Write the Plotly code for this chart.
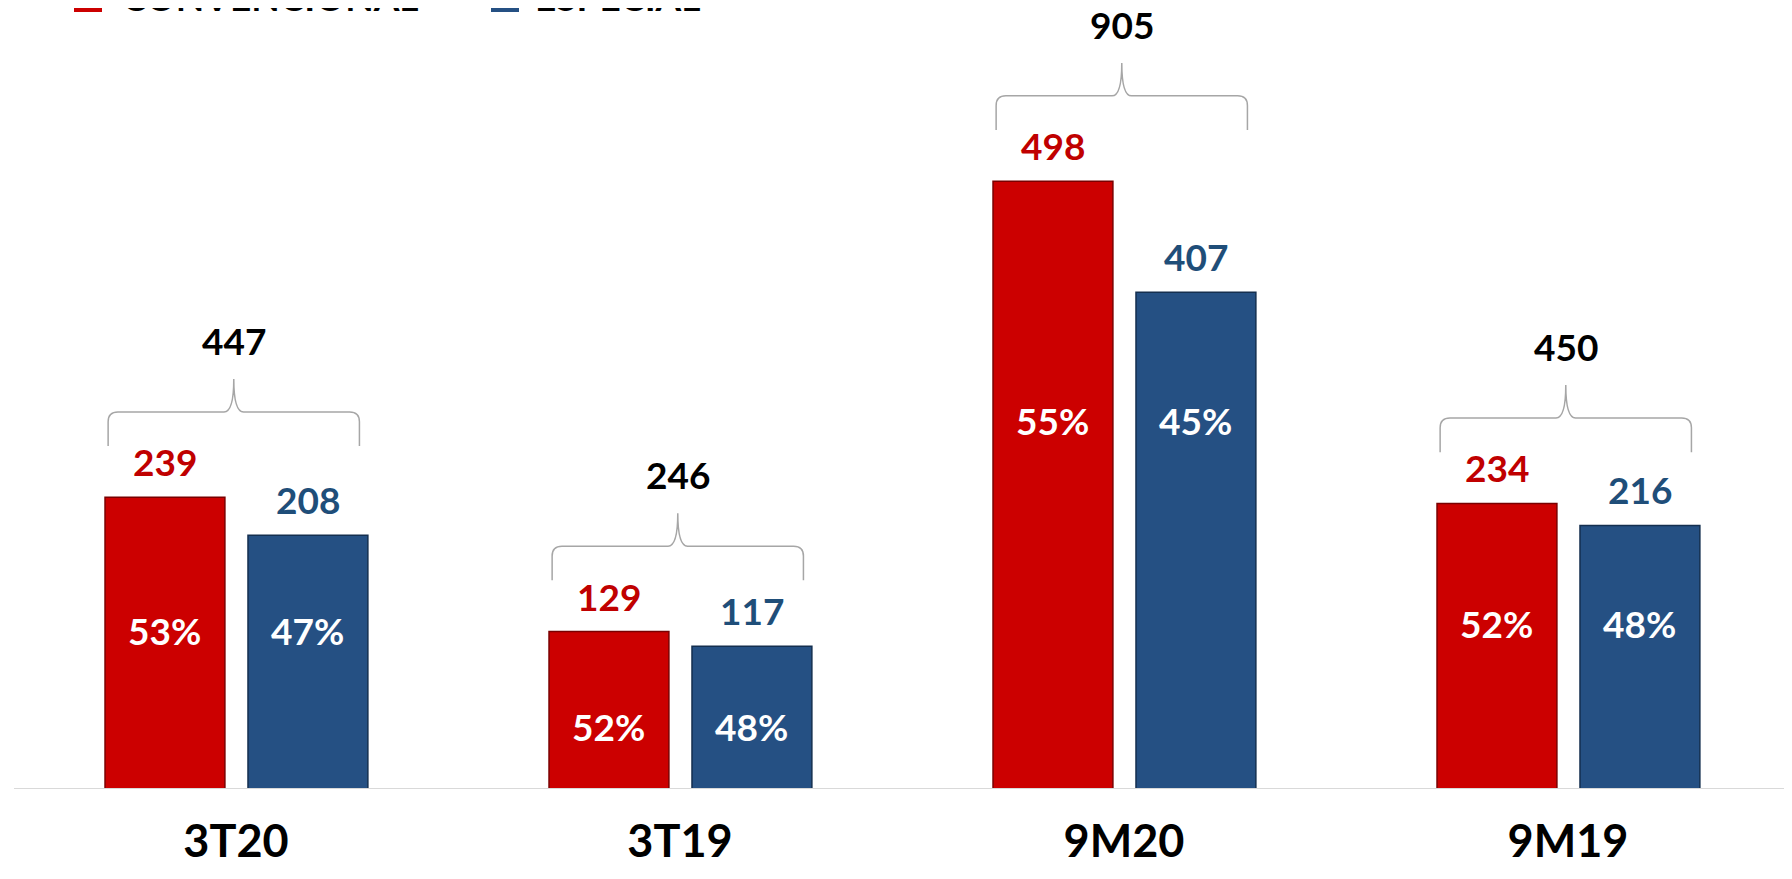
import plotly.graph_objects as go

# données
categories = ["3T20", "3T19", "9M20", "9M19"]
convencional = [239, 129, 498, 234]
especial = [208, 117, 407, 216]
totals = [447, 246, 905, 450]
pct_conv = ["53%", "52%", "55%", "52%"]
pct_esp = ["47%", "48%", "45%", "48%"]
pct_label_y = [130, 51, 302, 136]   # hauteur des étiquettes % (unités de l'axe)

RED = "#CC0000"
BLUE = "#255083"
RED_TXT = "#C00000"
BLUE_TXT = "#1F4E79"
FONT = "Lato, 'Open Sans', sans-serif"

x_idx = list(range(len(categories)))
bar_w = 0.27

fig = go.Figure()
fig.add_trace(go.Bar(x=x_idx, y=convencional, width=bar_w, offset=-0.295,
                     marker=dict(color=RED, line=dict(color="#7A0000", width=1.5)),
                     name="CONVENCIONAL", showlegend=False))
fig.add_trace(go.Bar(x=x_idx, y=especial, width=bar_w, offset=0.027,
                     marker=dict(color=BLUE, line=dict(color="#142F4F", width=1.5)),
                     name="ESPECIAL", showlegend=False))

annotations = []
shapes = []
for i in x_idx:
    xr = i - 0.295 + bar_w / 2
    xb = i + 0.027 + bar_w / 2
    # valeurs au-dessus des barres
    annotations.append(dict(x=xr, y=convencional[i], text=f"<b>{convencional[i]}</b>",
                            yanchor="bottom", yshift=11, showarrow=False,
                            font=dict(size=37, color=RED_TXT, family=FONT)))
    annotations.append(dict(x=xb, y=especial[i], text=f"<b>{especial[i]}</b>",
                            yanchor="bottom", yshift=11, showarrow=False,
                            font=dict(size=37, color=BLUE_TXT, family=FONT)))
    # pourcentages
    annotations.append(dict(x=xr, y=pct_label_y[i], text=f"<b>{pct_conv[i]}</b>",
                            showarrow=False, font=dict(size=37, color="white", family=FONT)))
    annotations.append(dict(x=xb, y=pct_label_y[i], text=f"<b>{pct_esp[i]}</b>",
                            showarrow=False, font=dict(size=37, color="white", family=FONT)))
    # accolade
    top = max(convencional[i], especial[i])
    yb = top + 42
    yh = yb + 28
    yt = yb + 55
    x0, x1 = i - 0.288, i + 0.278
    xc = (x0 + x1) / 2
    rx, ry = 0.022, 8
    path = (f"M {x0},{yb} L {x0},{yh - ry} Q {x0},{yh} {x0 + rx},{yh} "
            f"L {xc - rx},{yh} Q {xc},{yh} {xc},{yt} "
            f"Q {xc},{yh} {xc + rx},{yh} L {x1 - rx},{yh} "
            f"Q {x1},{yh} {x1},{yh - ry} L {x1},{yb}")
    shapes.append(dict(type="path", path=path, xref="x", yref="y",
                       line=dict(color="#A6A6A6", width=1.5)))
    annotations.append(dict(x=xc, y=yt, text=f"<b>{totals[i]}</b>", yanchor="bottom",
                            yshift=14, showarrow=False,
                            font=dict(size=37, color="black", family=FONT)))

# légende (coupée en haut, comme l'original)
plot_h = 781
plot_w = 1776
for x0p, x1p, tx, lab in [(74, 102, 120, "CONVENCIONAL"), (491, 519, 533, "ESPECIAL")]:
    shapes.append(dict(type="rect", xref="paper", yref="paper",
                       x0=(x0p - 14) / plot_w, x1=(x1p - 14) / plot_w,
                       y0=1 - 4 / plot_h, y1=1 + 25 / plot_h,
                       fillcolor=RED if lab == "CONVENCIONAL" else BLUE, line=dict(width=0)))
    annotations.append(dict(xref="paper", yref="paper", x=(tx - 14) / plot_w, y=1 - 4 / plot_h,
                            xanchor="left", yanchor="bottom", yshift=-9, showarrow=False,
                            text=f"<b>{lab}</b>",
                            font=dict(size=37, color="black", family=FONT)))

fig.update_layout(
    width=1792, height=879,
    margin=dict(l=6, r=10, t=0, b=98),
    plot_bgcolor="white", paper_bgcolor="white",
    barmode="overlay",
    shapes=shapes, annotations=annotations,
    xaxis=dict(range=[-0.5, 3.5], tickvals=x_idx, ticktext=[f"<b>{c}</b>" for c in categories],
               tickfont=dict(size=45, color="black", family=FONT), ticklabelstandoff=22,
               showgrid=False, zeroline=False, showline=False, ticks=""),
    yaxis=dict(range=[0, 640], visible=False, showgrid=False, zeroline=False),
)
fig.add_hline(y=0, line=dict(color="#D9D9D9", width=2))

fig.write_html("out.html")
